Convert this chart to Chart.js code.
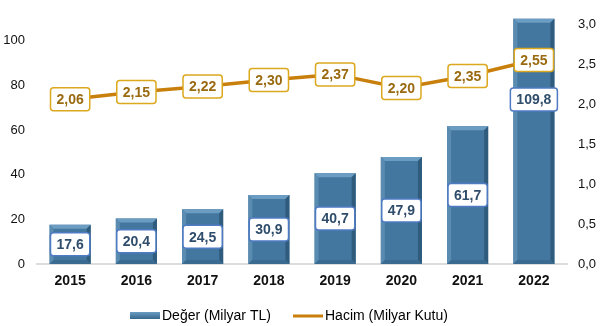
<!DOCTYPE html>
<html>
<head>
<meta charset="utf-8">
<script src="https://cdn.jsdelivr.net/npm/chart.js@4"></script>
<style>
  html, body { margin: 0; padding: 0; background: #fff; }
  #wrap { width: 600px; height: 326px; }
</style>
</head>
<body>
<div id="wrap"><canvas id="myChart" width="600" height="326"></canvas></div>
<script>
// Yıllar ve seriler
const years = ['2015', '2016', '2017', '2018', '2019', '2020', '2021', '2022'];
const deger = [17.6, 20.4, 24.5, 30.9, 40.7, 47.9, 61.7, 109.8];
const hacim = [2.06, 2.15, 2.22, 2.30, 2.37, 2.20, 2.35, 2.55];
const leftTicks = [0, 20, 40, 60, 80, 100];
const rightTicks = [0, 0.5, 1.0, 1.5, 2.0, 2.5, 3.0];

const FONT = '"Liberation Sans", Arial, sans-serif';
const BAR = '#44779f';
const LINE = '#c97f0c';

function virgul(v, d) {
    return v.toFixed(d).replace('.', ',');
}

function roundBox(ctx, x, y, w, h, r) {
    ctx.beginPath();
    ctx.moveTo(x + r, y);
    ctx.lineTo(x + w - r, y);
    ctx.quadraticCurveTo(x + w, y, x + w, y + r);
    ctx.lineTo(x + w, y + h - r);
    ctx.quadraticCurveTo(x + w, y + h, x + w - r, y + h);
    ctx.lineTo(x + r, y + h);
    ctx.quadraticCurveTo(x, y + h, x, y + h - r);
    ctx.lineTo(x, y + r);
    ctx.quadraticCurveTo(x, y, x + r, y);
    ctx.closePath();
}

function etiket(ctx, text, cx, cy, border, color) {
    ctx.save();
    ctx.font = 'bold 14px ' + FONT;
    const w = ctx.measureText(text).width + 12;
    const h = 23;
    roundBox(ctx, cx - w / 2, cy - h / 2, w, h, 3);
    ctx.fillStyle = '#fff';
    ctx.fill();
    ctx.lineWidth = 1.5;
    ctx.strokeStyle = border;
    ctx.stroke();
    ctx.fillStyle = color;
    ctx.textAlign = 'center';
    ctx.textBaseline = 'middle';
    ctx.fillText(text, cx, cy + 1);
    ctx.restore();
}

// eksen etiketlerinin taşma payını kaldır
function noPad(scale) {
    scale.paddingTop = 0;
    scale.paddingBottom = 0;
    scale.paddingLeft = 0;
    scale.paddingRight = 0;
}

// çubuklara kabartma kenar
const bevelPlugin = {
    id: 'bevel',
    afterDatasetDraw(chart, args) {
        if (args.index !== 0) return;
        const ctx = chart.ctx;
        const b = 4;
        args.meta.data.forEach(bar => {
            const l = bar.x - bar.width / 2, r = bar.x + bar.width / 2;
            const t = bar.y, btm = bar.base;
            ctx.save();
            // üst
            ctx.fillStyle = '#6b9cc1';
            ctx.beginPath();
            ctx.moveTo(l, t); ctx.lineTo(r, t); ctx.lineTo(r - b, t + b); ctx.lineTo(l + b, t + b);
            ctx.fill();
            // sol
            ctx.fillStyle = '#5a8bb1';
            ctx.beginPath();
            ctx.moveTo(l, t); ctx.lineTo(l + b, t + b); ctx.lineTo(l + b, btm - b); ctx.lineTo(l, btm);
            ctx.fill();
            // sağ
            ctx.fillStyle = '#2f5b7d';
            ctx.beginPath();
            ctx.moveTo(r, t); ctx.lineTo(r - b, t + b); ctx.lineTo(r - b, btm - b); ctx.lineTo(r, btm);
            ctx.fill();
            // alt
            ctx.fillStyle = '#3a6a90';
            ctx.beginPath();
            ctx.moveTo(l, btm); ctx.lineTo(l + b, btm - b); ctx.lineTo(r - b, btm - b); ctx.lineTo(r, btm);
            ctx.fill();
            ctx.restore();
        });
    }
};

// değer etiketleri ve gösterge
const labelPlugin = {
    id: 'etiketler',
    afterDatasetsDraw(chart) {
        const ctx = chart.ctx;
        const bars = chart.getDatasetMeta(0).data;
        bars.forEach((bar, i) => {
            let cy = (bar.y + bar.base) / 2;
            if (i === bars.length - 1) cy -= 42;
            etiket(ctx, virgul(deger[i], 1), bar.x, cy, '#4f7bc4', '#2f4d6b');
        });
        chart.getDatasetMeta(1).data.forEach((pt, i) => {
            etiket(ctx, virgul(hacim[i], 2), pt.x, pt.y, '#dba81f', '#9a6a10');
        });
    },
    afterDraw(chart) {
        const ctx = chart.ctx;
        const y = 315;
        ctx.save();
        ctx.font = '14px ' + FONT;
        ctx.textBaseline = 'middle';
        // Değer
        const g = ctx.createLinearGradient(0, y - 3, 0, y + 4);
        g.addColorStop(0, '#6b9cc1');
        g.addColorStop(1, '#36678d');
        ctx.fillStyle = g;
        ctx.fillRect(130, y - 3, 30, 7);
        ctx.fillStyle = '#000';
        ctx.fillText(chart.data.datasets[0].label, 162, y + 1);
        // Hacim
        ctx.strokeStyle = LINE;
        ctx.lineWidth = 3;
        ctx.beginPath();
        ctx.moveTo(293, y + 1);
        ctx.lineTo(323, y + 1);
        ctx.stroke();
        ctx.fillText(chart.data.datasets[1].label, 325, y + 1);
        ctx.restore();
    }
};

const ctx = document.getElementById('myChart').getContext('2d');
const myChart = new Chart(ctx, {
    type: 'bar',
    data: {
        labels: years,
        datasets: [{
            type: 'bar',
            label: 'Değer (Milyar TL)',
            data: deger,
            backgroundColor: BAR,
            borderWidth: 0,
            categoryPercentage: 1,
            barPercentage: 0.62,
            yAxisID: 'y',
            order: 2
        }, {
            type: 'line',
            label: 'Hacim (Milyar Kutu)',
            data: hacim,
            borderColor: LINE,
            borderWidth: 3.5,
            pointRadius: 0,
            tension: 0,
            yAxisID: 'y1',
            order: 1
        }]
    },
    options: {
        responsive: false,
        animation: false,
        layout: { padding: { top: 5, bottom: 0, left: 0, right: 0 } },
        plugins: {
            legend: { display: false },
            tooltip: { enabled: false }
        },
        scales: {
            x: {
                grid: { display: false, drawTicks: false },
                border: { display: true, color: '#dcdcdc', width: 2 },
                ticks: {
                    padding: 9,
                    color: '#111',
                    font: { family: FONT, size: 14, weight: 'bold' }
                },
                afterFit(scale) { noPad(scale); scale.height = 62; }
            },
            y: {
                position: 'left',
                min: 0,
                max: 116,
                grid: { display: false, drawTicks: false },
                border: { display: false },
                afterBuildTicks(scale) {
                    scale.ticks = leftTicks.map(v => ({ value: v }));
                },
                ticks: {
                    padding: 12,
                    color: '#111',
                    font: { family: FONT, size: 13 }
                },
                afterFit(scale) { noPad(scale); scale.width = 37; }
            },
            y1: {
                position: 'right',
                min: 0,
                max: 3.2375,
                grid: { display: false, drawTicks: false },
                border: { display: false },
                afterBuildTicks(scale) {
                    scale.ticks = rightTicks.map(v => ({ value: v }));
                },
                ticks: {
                    padding: 11,
                    color: '#111',
                    font: { family: FONT, size: 13 },
                    callback: v => virgul(v, 1)
                },
                afterFit(scale) { noPad(scale); scale.width = 33; }
            }
        }
    },
    plugins: [bevelPlugin, labelPlugin]
});
</script>
</body>
</html>
